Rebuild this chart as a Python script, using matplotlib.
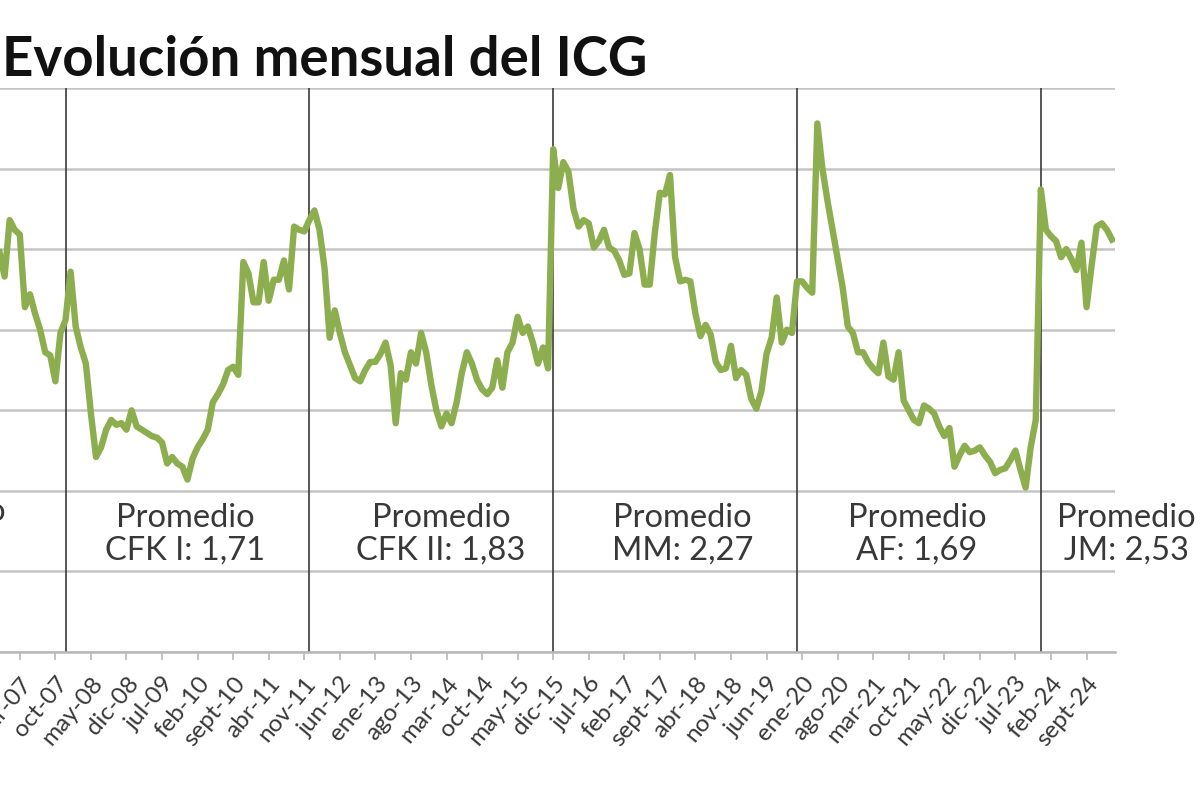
import numpy as np
import matplotlib
matplotlib.use("Agg")
import matplotlib.pyplot as plt

# monthly ICG values, nov-06 .. feb-25
icg = [
    2.48, 2.33, 2.68, 2.62, 2.59, 2.14, 2.22, 2.10, 2.00, 1.86, 1.84, 1.68, 1.98,
    2.06, 2.36, 2.02, 1.89, 1.79, 1.48, 1.21, 1.27, 1.38, 1.44, 1.41, 1.42,
    1.38, 1.50, 1.40, 1.38, 1.36, 1.34, 1.33, 1.30, 1.17, 1.21, 1.17, 1.15,
    1.07, 1.20, 1.27, 1.32, 1.38, 1.55, 1.60, 1.66, 1.75, 1.77, 1.72, 2.42,
    2.35, 2.17, 2.17, 2.42, 2.18, 2.31, 2.31, 2.43, 2.25, 2.64, 2.62, 2.61,
    2.68, 2.74, 2.62, 2.38, 1.95, 2.12, 1.98, 1.86, 1.78, 1.70, 1.68, 1.75,
    1.80, 1.80, 1.85, 1.92, 1.78, 1.42, 1.73, 1.69, 1.86, 1.79, 1.98, 1.86,
    1.66, 1.50, 1.40, 1.48, 1.42, 1.55, 1.73, 1.86, 1.79, 1.69, 1.63, 1.60,
    1.64, 1.81, 1.64, 1.86, 1.92, 2.08, 1.98, 2.02, 1.92, 1.79, 1.89, 1.76,
    3.12, 2.88, 3.04, 2.98, 2.75, 2.64, 2.68, 2.66, 2.51, 2.55, 2.62, 2.51,
    2.49, 2.43, 2.34, 2.35, 2.60, 2.50, 2.28, 2.28, 2.60, 2.85, 2.84, 2.96,
    2.45, 2.30, 2.31, 2.30, 2.10, 1.96, 2.03, 1.97, 1.80, 1.75, 1.76, 1.90,
    1.70, 1.75, 1.72, 1.57, 1.51, 1.62, 1.85, 1.95, 2.20, 1.92, 2.00, 1.98,
    2.30, 2.30, 2.26, 2.23, 3.28, 3.00, 2.80, 2.62, 2.44, 2.26, 2.02, 1.98,
    1.86, 1.86, 1.80, 1.76, 1.73, 1.92, 1.71, 1.69, 1.86, 1.56, 1.50, 1.44,
    1.42, 1.53, 1.51, 1.48, 1.40, 1.34, 1.39, 1.15, 1.22, 1.28, 1.24, 1.25,
    1.27, 1.22, 1.18, 1.11, 1.13, 1.14, 1.19, 1.25, 1.13, 1.02, 1.27, 1.44,
    2.87, 2.62, 2.58, 2.55, 2.45, 2.50, 2.44, 2.37, 2.54, 2.14, 2.40, 2.64,
    2.66, 2.62, 2.56,
]

tick_labels = [
    "mar-07", "oct-07", "may-08", "dic-08", "jul-09", "feb-10", "sept-10",
    "abr-11", "nov-11", "jun-12", "ene-13", "ago-13", "mar-14", "oct-14",
    "may-15", "dic-15", "jul-16", "feb-17", "sept-17", "abr-18", "nov-18",
    "jun-19", "ene-20", "ago-20", "mar-21", "oct-21", "may-22", "dic-22",
    "jul-23", "feb-24", "sept-24",
]

# start of each government (december), as month index from nov-06
gov_start = [13, 61, 109, 157, 205]
gov_names = ["CFK I", "CFK II", "MM", "AF", "JM"]
gov_avg = [1.71, 1.83, 2.27, 1.69, 2.53]

plt.rcParams["font.family"] = ["Lato", "DejaVu Sans"]

months = np.arange(len(icg))
tick_pos = np.arange(4, len(icg), 7)[:len(tick_labels)]

fig = plt.figure(figsize=(12, 8), dpi=100)
ax = fig.add_axes([0, 1 - 652 / 800, 1115 / 1200, 564 / 800])

ax.plot(months, icg, color="#8DAE4F", lw=4.6, solid_joinstyle="round", zorder=3)

for m in gov_start:
    ax.axvline(m, color="#3a3a3a", lw=1.2, zorder=2)

ax.set_xlim(0.1, 219.6)
ax.set_ylim(0, 3.5)
ax.set_yticks(np.arange(0, 3.51, 0.5))
ax.yaxis.grid(True, color="#c4c4c4", lw=1.8, zorder=1)
ax.tick_params(axis="y", left=False, labelleft=False)

for s in ["left", "right", "top"]:
    ax.spines[s].set_visible(False)
ax.spines["bottom"].set_color("#b8b8b8")
ax.spines["bottom"].set_linewidth(1.8)

ax.set_xticks(tick_pos)
ax.set_xticklabels(tick_labels, rotation=50, ha="right", rotation_mode="anchor",
                   fontsize=17.5, color="#383838")
ax.tick_params(axis="x", length=6, width=1.2, color="#b8b8b8", pad=9)

# promedio labels
label_x = [36.5, 86.9, 134.5, 180.6, 221.8]
for x, name, avg in zip(label_x, gov_names, gov_avg):
    txt = "Promedio\n%s: %s" % (name, ("%.2f" % avg).replace(".", ","))
    ax.text(x, 0.73, txt, ha="center", va="center", fontsize=23.5,
            color="#383838", linespacing=1.12, clip_on=False)
fig.text(6 / 1200, 1 - 512 / 800, "Promedio", ha="right", va="center",
         fontsize=23.5, color="#383838")

fig.text(2 / 1200, 1 - 60 / 800, "Evolución mensual del ICG", ha="left",
         va="center", fontsize=39.3, fontweight="bold", color="#111111")

fig.savefig("out.png", dpi=100)
